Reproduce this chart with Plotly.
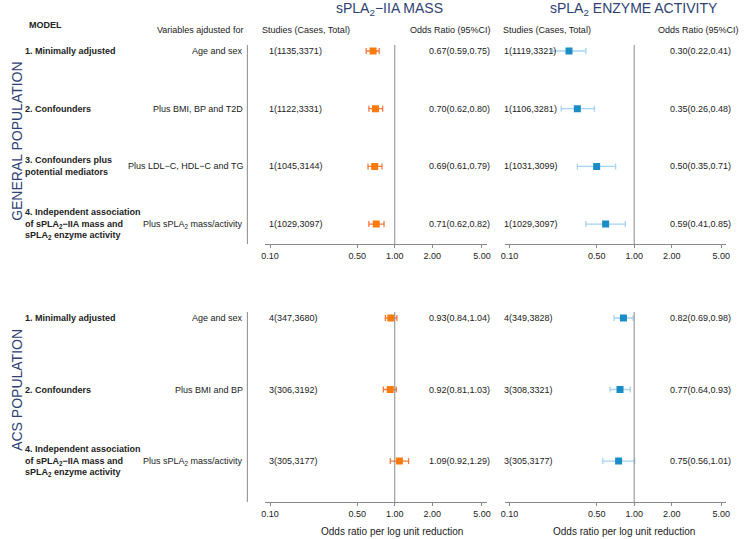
import plotly.graph_objects as go

W, H = 746, 539

# ---------------- data ----------------
gen_models = ["1. Minimally adjusted", "2. Confounders",
              "3. Confounders plus<br>potential mediators",
              "4. Independent association<br>of sPLA<sub>2</sub>\u2212IIA mass and<br>sPLA<sub>2</sub> enzyme activity"]
gen_adjust = ["Age and sex", "Plus BMI, BP and T2D", "Plus LDL\u2212C, HDL\u2212C and TG",
              "Plus sPLA<sub>2</sub> mass/activity"]
gen_mass_studies = ["1(1135,3371)", "1(1122,3331)", "1(1045,3144)", "1(1029,3097)"]
gen_mass_or = [0.67, 0.70, 0.69, 0.71]
gen_mass_lo = [0.59, 0.62, 0.61, 0.62]
gen_mass_hi = [0.75, 0.80, 0.79, 0.82]
gen_act_studies = ["1(1119,3321)", "1(1106,3281)", "1(1031,3099)", "1(1029,3097)"]
gen_act_or = [0.30, 0.35, 0.50, 0.59]
gen_act_lo = [0.22, 0.26, 0.35, 0.41]
gen_act_hi = [0.41, 0.48, 0.71, 0.85]

acs_models = ["1. Minimally adjusted", "2. Confounders",
              "4. Independent association<br>of sPLA<sub>2</sub>\u2212IIA mass and<br>sPLA<sub>2</sub> enzyme activity"]
acs_adjust = ["Age and sex", "Plus BMI and BP", "Plus sPLA<sub>2</sub> mass/activity"]
acs_mass_studies = ["4(347,3680)", "3(306,3192)", "3(305,3177)"]
acs_mass_or = [0.93, 0.92, 1.09]
acs_mass_lo = [0.84, 0.81, 0.92]
acs_mass_hi = [1.04, 1.03, 1.29]
acs_act_studies = ["4(349,3828)", "3(308,3321)", "3(305,3177)"]
acs_act_or = [0.82, 0.77, 0.75]
acs_act_lo = [0.69, 0.64, 0.56]
acs_act_hi = [0.98, 0.93, 1.01]

tick_vals = [0.1, 0.5, 1, 2, 5]
tick_text = ["0.10", "0.50", "1.00", "2.00", "5.00"]

# ---------------- style ----------------
FONT = "Arial, Liberation Sans, sans-serif"
NAVY = "#2e3f73"
ORANGE = "#fb7a0c"
ORANGE_CI = "#f57a3e"
BLUE = "#1a8cc6"
BLUE_CI = "#a6d4f2"
GREY = "#8a8a8a"
TXT = "#222222"
LSHIFT = -5  # compensation for left-anchored annotation padding

def px(x):
    return x / W

def py(y):
    return 1 - y / H

fig = go.Figure()

panels = [
    ("x", "y", gen_mass_or, gen_mass_lo, gen_mass_hi, ORANGE, ORANGE_CI),
    ("x2", "y2", gen_act_or, gen_act_lo, gen_act_hi, BLUE, BLUE_CI),
    ("x3", "y3", acs_mass_or, acs_mass_lo, acs_mass_hi, ORANGE, ORANGE_CI),
    ("x4", "y4", acs_act_or, acs_act_lo, acs_act_hi, BLUE, BLUE_CI),
]
for xa, ya, o, lo, hi, c, cc in panels:
    n = len(o)
    fig.add_trace(go.Scatter(
        x=o, y=list(range(n)), xaxis=xa, yaxis=ya, mode="markers",
        marker=dict(symbol="square", size=7, color=c),
        error_x=dict(type="data", symmetric=False,
                     array=[h - v for h, v in zip(hi, o)],
                     arrayminus=[v - l for v, l in zip(o, lo)],
                     color=cc, thickness=1.3, width=3),
        showlegend=False, hoverinfo="skip"))

rng = [-1.0397, 0.738]
top_dom = [py(244), py(45)]
bot_dom = [py(502), py(312)]
xdom_l = [px(264), px(488)]
xdom_r = [px(506), px(730)]

def xax(dom, anchor):
    return dict(domain=dom, anchor=anchor, type="log", range=rng,
                tickvals=tick_vals, ticktext=tick_text, showline=True,
                linecolor=GREY, linewidth=1, ticks="outside", ticklen=3,
                tickcolor=GREY, showgrid=False, zeroline=False,
                tickfont=dict(family=FONT, size=9, color=TXT))

def yax(dom, r):
    return dict(domain=dom, range=r, visible=False, showgrid=False, zeroline=False)

top_rng = [3.345, -0.104]
bot_rng = [2.573, -0.084]
fig.update_layout(
    xaxis=xax(xdom_l, "y"), yaxis=yax(top_dom, top_rng),
    xaxis2=xax(xdom_r, "y2"), yaxis2=yax(top_dom, top_rng),
    xaxis3=xax(xdom_l, "y3"), yaxis3=yax(bot_dom, bot_rng),
    xaxis4=xax(xdom_r, "y4"), yaxis4=yax(bot_dom, bot_rng),
)

shapes = []
for xr, yr in [("x", "y"), ("x2", "y2"), ("x3", "y3"), ("x4", "y4")]:
    shapes.append(dict(type="line", xref=xr, yref=yr + " domain", x0=1, x1=1,
                       y0=0, y1=1, line=dict(color=GREY, width=1)))
for y0, y1 in [(45, 244), (312, 502)]:
    shapes.append(dict(type="line", xref="paper", yref="paper", x0=px(246), x1=px(246),
                       y0=py(y0), y1=py(y1), line=dict(color=GREY, width=1)))
fig.update_layout(shapes=shapes)

ann = []

def txt(x, y, text, anchor="left", size=9, bold=False, color=TXT, yref="paper", rot=0):
    t = "<b>" + text + "</b>" if bold else text
    if anchor == "left":
        x = x + LSHIFT
    ann.append(dict(x=px(x), y=y, xref="paper", yref=yref, text=t, showarrow=False,
                    xanchor=anchor, yanchor="middle", align=anchor if anchor != "center" else "center",
                    textangle=rot, font=dict(family=FONT, size=size, color=color)))

# titles
txt(390, py(9), "sPLA<sub>2</sub>\u2212IIA MASS", "center", 14, color=NAVY)
txt(637, py(9), "sPLA<sub>2</sub> ENZYME ACTIVITY", "center", 14, color=NAVY)

# headers
txt(28, py(25), "MODEL", "left", 9, bold=True)
txt(244, py(30), "Variables ajdusted for", "right", 9)
txt(264, py(30), "Studies (Cases, Total)", "left", 9)
txt(494, py(30), "Odds Ratio (95%CI)", "right", 9)
txt(507, py(30), "Studies (Cases, Total)", "left", 9)
txt(745, py(30), "Odds Ratio (95%CI)", "right", 9)

# population labels
txt(13, py(141), "GENERAL POPULATION", "center", 14, color=NAVY, rot=-90)
txt(13, py(390), "ACS POPULATION", "center", 14, color=NAVY, rot=-90)

def rows(models, adjust, ms, mo, ml, mh, as_, ao, al, ah, yref):
    for i in range(len(models)):
        txt(24, i, models[i], "left", 9, bold=True, yref=yref)
        txt(244, i, adjust[i], "right", 9, yref=yref)
        txt(271, i, ms[i], "left", 9, yref=yref)
        txt(493, i, f"{mo[i]:.2f}({ml[i]:.2f},{mh[i]:.2f})", "right", 9, yref=yref)
        txt(508, i, as_[i], "left", 9, yref=yref)
        txt(737, i, f"{ao[i]:.2f}({al[i]:.2f},{ah[i]:.2f})", "right", 9, yref=yref)

rows(gen_models, gen_adjust, gen_mass_studies, gen_mass_or, gen_mass_lo, gen_mass_hi,
     gen_act_studies, gen_act_or, gen_act_lo, gen_act_hi, "y")
rows(acs_models, acs_adjust, acs_mass_studies, acs_mass_or, acs_mass_lo, acs_mass_hi,
     acs_act_studies, acs_act_or, acs_act_lo, acs_act_hi, "y3")

txt(392, py(531), "Odds ratio per log unit reduction", "center", 10)
txt(627, py(531), "Odds ratio per log unit reduction", "center", 10)

fig.update_layout(annotations=ann, width=W, height=H,
                  margin=dict(l=0, r=0, t=0, b=0),
                  paper_bgcolor="white", plot_bgcolor="white",
                  font=dict(family=FONT))

fig.write_html("out.html", config={"displayModeBar": False},
               post_script="document.body.style.margin='0';document.body.style.overflow='hidden';")
